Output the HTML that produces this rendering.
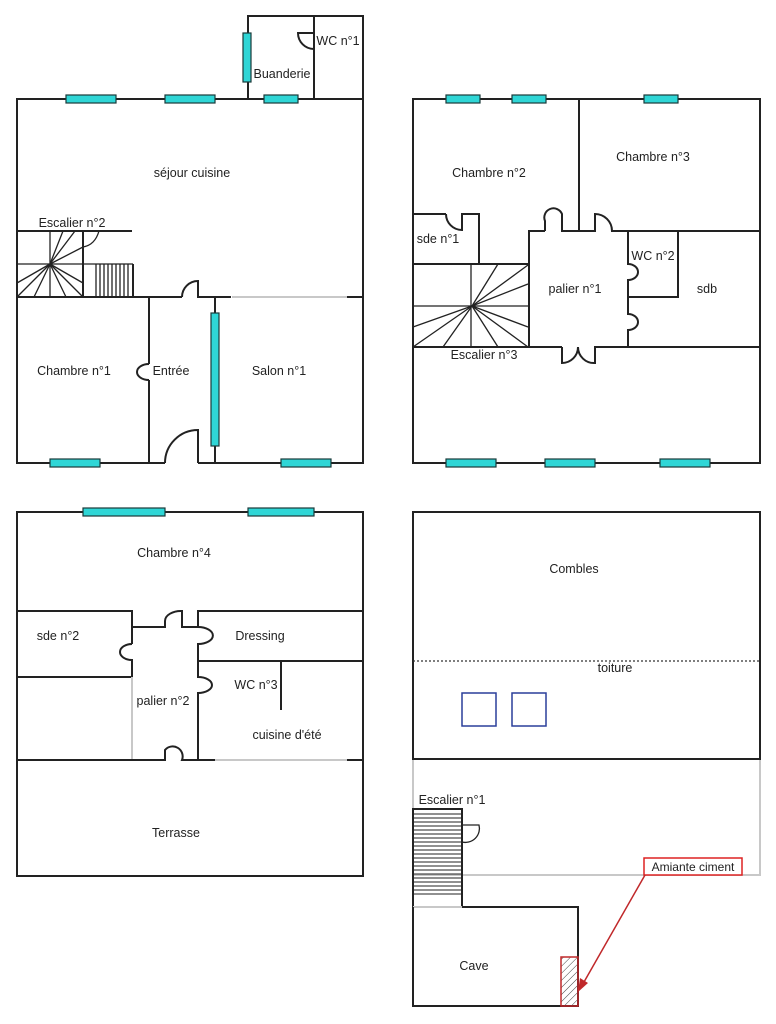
<!DOCTYPE html>
<html><head><meta charset="utf-8"><style>
html,body{margin:0;padding:0;background:#fff;}
svg{display:block;}
text{font-family:"Liberation Sans",Arial,sans-serif;font-size:12.5px;fill:#222;text-anchor:middle;}
.w{stroke:#222;stroke-width:2;fill:none;}
.g{stroke:#c8c8c8;stroke-width:2;fill:none;}
.t{stroke:#222;stroke-width:1.3;fill:none;}
.win{fill:#2fd6d6;stroke:#1a3a3a;stroke-width:1.2;}
</style></head><body>
<svg width="776" height="1024" viewBox="0 0 776 1024" xmlns="http://www.w3.org/2000/svg">
<defs>
<pattern id="h" width="5" height="5" patternUnits="userSpaceOnUse" patternTransform="rotate(45)">
<line x1="0" y1="0" x2="0" y2="5" stroke="#444" stroke-width="1"/></pattern>
</defs>

<!-- ===== TOP LEFT ===== -->
<rect class="w" x="17" y="99" width="346" height="364"/>
<polyline class="w" points="248,99 248,16 363,16 363,99"/>
<line class="w" x1="314" y1="16" x2="314" y2="99"/>
<path class="w" d="M314,33 L298,33 A16,16 0 0 0 314,49"/>
<!-- escalier 2 -->
<line class="w" x1="17" y1="231" x2="132" y2="231"/>
<rect class="w" x="17" y="231" width="66" height="66"/>
<line class="t" x1="50" y1="231" x2="50" y2="297"/>
<line class="t" x1="17" y1="264" x2="133" y2="264"/>
<line class="w" x1="133" y1="264" x2="133" y2="297"/>
<path class="t" d="M83,247 Q95,245 99,231"/>
<g class="t">
<line x1="50" y1="264" x2="63" y2="231"/><line x1="50" y1="264" x2="75" y2="231"/><line x1="50" y1="264" x2="83" y2="247"/>
<line x1="50" y1="264" x2="17" y2="283"/><line x1="50" y1="264" x2="17" y2="297"/><line x1="50" y1="264" x2="34" y2="297"/>
<line x1="50" y1="264" x2="66" y2="297"/><line x1="50" y1="264" x2="83" y2="297"/><line x1="50" y1="264" x2="83" y2="283"/>
</g>
<g class="t">
<line x1="96" y1="264" x2="96" y2="297"/><line x1="100" y1="264" x2="100" y2="297"/><line x1="104" y1="264" x2="104" y2="297"/>
<line x1="108" y1="264" x2="108" y2="297"/><line x1="112" y1="264" x2="112" y2="297"/><line x1="116" y1="264" x2="116" y2="297"/>
<line x1="120" y1="264" x2="120" y2="297"/><line x1="124" y1="264" x2="124" y2="297"/><line x1="128" y1="264" x2="128" y2="297"/>
</g>
<line class="w" x1="17" y1="297" x2="182" y2="297"/>
<path class="w" d="M182,297 A16,16 0 0 1 198,281 L198,297 L231,297"/>
<line class="g" x1="232" y1="297" x2="347" y2="297"/>
<line class="w" x1="347" y1="297" x2="363" y2="297"/>
<line class="w" x1="149" y1="297" x2="149" y2="364"/>
<path class="w" d="M149,364 L149,364 A12,8 0 0 0 149,380"/>
<line class="w" x1="149" y1="380" x2="149" y2="463"/>
<line class="w" x1="215" y1="297" x2="215" y2="463"/>
<line x1="165" y1="463" x2="198" y2="463" stroke="#fff" stroke-width="3"/>
<path class="w" d="M165,463 A33,33 0 0 1 198,430 L198,463"/>
<rect class="win" x="211" y="313" width="8" height="133"/>
<rect class="win" x="243" y="33" width="8" height="49"/>
<rect class="win" x="66" y="95" width="50" height="8"/>
<rect class="win" x="165" y="95" width="50" height="8"/>
<rect class="win" x="264" y="95" width="34" height="8"/>
<rect class="win" x="50" y="459" width="50" height="8"/>
<rect class="win" x="281" y="459" width="50" height="8"/>
<text x="192" y="177">séjour cuisine</text>
<text x="72" y="227">Escalier n°2</text>
<text x="74" y="375">Chambre n°1</text>
<text x="171" y="375">Entrée</text>
<text x="279" y="375">Salon n°1</text>
<text x="282" y="78">Buanderie</text>
<text x="338" y="45">WC n°1</text>

<!-- ===== TOP RIGHT ===== -->
<rect class="w" x="413" y="99" width="347" height="364"/>
<line class="w" x1="579" y1="99" x2="579" y2="231"/>
<polyline class="w" points="529,347 529,231 545,231"/>
<path class="w" d="M545,231 L545,221 A8,8 0 0 1 562,214 L562,231 L595,231 L595,214 A17,17 0 0 1 612,231 L760,231"/>
<polyline class="w" points="413,214 446,214"/>
<path class="w" d="M446,214 A16,16 0 0 0 462,230 L462,214 L479,214 L479,264"/>
<rect class="w" x="413" y="264" width="116" height="83"/>
<line class="t" x1="471" y1="264" x2="471" y2="347"/>
<line class="t" x1="413" y1="306" x2="529" y2="306"/>
<g class="t">
<line x1="472" y1="306" x2="498" y2="264"/><line x1="472" y1="306" x2="528" y2="265"/><line x1="472" y1="306" x2="528" y2="284"/>
<line x1="472" y1="306" x2="413" y2="327"/><line x1="472" y1="306" x2="413" y2="347"/><line x1="472" y1="306" x2="443" y2="347"/>
<line x1="472" y1="306" x2="498" y2="347"/><line x1="472" y1="306" x2="528" y2="347"/><line x1="472" y1="306" x2="528" y2="327"/>
</g>
<path class="w" d="M628,231 L628,264 A10,8 0 0 1 628,280 L628,314 A10,8 0 0 1 628,330 L628,347"/>
<polyline class="w" points="628,297 678,297 678,231"/>
<line class="w" x1="413" y1="347" x2="562" y2="347"/>
<path class="w" d="M562,347 L562,363 A16,16 0 0 0 578,347 A16,16 0 0 0 595,363 L595,347 L760,347"/>
<rect class="win" x="446" y="95" width="34" height="8"/>
<rect class="win" x="512" y="95" width="34" height="8"/>
<rect class="win" x="644" y="95" width="34" height="8"/>
<rect class="win" x="446" y="459" width="50" height="8"/>
<rect class="win" x="545" y="459" width="50" height="8"/>
<rect class="win" x="660" y="459" width="50" height="8"/>
<text x="489" y="177">Chambre n°2</text>
<text x="653" y="161">Chambre n°3</text>
<text x="438" y="243">sde n°1</text>
<text x="653" y="260">WC n°2</text>
<text x="575" y="293">palier n°1</text>
<text x="707" y="293">sdb</text>
<text x="484" y="359">Escalier n°3</text>

<!-- ===== BOTTOM LEFT ===== -->
<rect class="w" x="17" y="512" width="346" height="364"/>
<polyline class="w" points="17,611 132,611 132,644"/>
<path class="w" d="M132,644 A12,8 0 0 0 132,660 L132,677 L17,677"/>
<line class="g" x1="132" y1="677" x2="132" y2="760"/>
<path class="w" d="M132,627 L165,627 L165,621 A16,10 0 0 1 182,611 L182,627 L198,627"/>
<polyline class="w" points="363,611 198,611 198,627"/>
<path class="w" d="M198,627 A14,8 0 0 1 198,644 L198,677 A14,8 0 0 1 198,693 L198,760"/>
<line class="w" x1="198" y1="661" x2="363" y2="661"/>
<line class="w" x1="281" y1="661" x2="281" y2="710"/>
<path class="w" d="M17,760 L165,760 L165,750 A10,10 0 0 1 182,760 L215,760"/>
<line class="g" x1="215" y1="760" x2="347" y2="760"/>
<line class="w" x1="347" y1="760" x2="363" y2="760"/>
<rect class="win" x="83" y="508" width="82" height="8"/>
<rect class="win" x="248" y="508" width="66" height="8"/>
<text x="174" y="557">Chambre n°4</text>
<text x="58" y="640">sde n°2</text>
<text x="260" y="640">Dressing</text>
<text x="256" y="689">WC n°3</text>
<text x="163" y="705">palier n°2</text>
<text x="287" y="739">cuisine d'été</text>
<text x="176" y="837">Terrasse</text>

<!-- ===== BOTTOM RIGHT ===== -->
<rect class="w" x="413" y="512" width="347" height="247"/>
<line x1="413" y1="661" x2="760" y2="661" stroke="#333" stroke-width="1.3" stroke-dasharray="2,2"/>
<rect x="462" y="693" width="34" height="33" fill="none" stroke="#2a3f9a" stroke-width="1.5"/>
<rect x="512" y="693" width="34" height="33" fill="none" stroke="#2a3f9a" stroke-width="1.5"/>
<text x="574" y="573">Combles</text>
<text x="615" y="672">toiture</text>
<polyline class="g" points="413,760 413,875 760,875 760,760"/>
<rect class="w" x="413" y="809" width="49" height="98"/>
<g stroke="#222" stroke-width="1">
<line x1="413" y1="814" x2="462" y2="814"/><line x1="413" y1="818" x2="462" y2="818"/><line x1="413" y1="822" x2="462" y2="822"/>
<line x1="413" y1="826" x2="462" y2="826"/><line x1="413" y1="830" x2="462" y2="830"/><line x1="413" y1="834" x2="462" y2="834"/>
<line x1="413" y1="838" x2="462" y2="838"/><line x1="413" y1="842" x2="462" y2="842"/><line x1="413" y1="846" x2="462" y2="846"/>
<line x1="413" y1="850" x2="462" y2="850"/><line x1="413" y1="854" x2="462" y2="854"/><line x1="413" y1="858" x2="462" y2="858"/>
<line x1="413" y1="862" x2="462" y2="862"/><line x1="413" y1="866" x2="462" y2="866"/><line x1="413" y1="870" x2="462" y2="870"/>
<line x1="413" y1="874" x2="462" y2="874"/><line x1="413" y1="878" x2="462" y2="878"/><line x1="413" y1="882" x2="462" y2="882"/>
<line x1="413" y1="886" x2="462" y2="886"/><line x1="413" y1="890" x2="462" y2="890"/><line x1="413" y1="894" x2="462" y2="894"/>
</g>
<path class="t" d="M462,825 L479,825 A14,14 0 0 1 462,842"/>
<text x="452" y="804">Escalier n°1</text>
<line class="g" x1="413" y1="907" x2="462" y2="907"/>
<polyline class="w" points="462,907 578,907 578,1006 413,1006 413,907"/>
<rect x="561" y="957" width="17" height="49" fill="url(#h)" stroke="#c0282a" stroke-width="1.5"/>
<text x="474" y="970">Cave</text>
<rect x="644" y="858" width="98" height="17" fill="#fff" stroke="#d22" stroke-width="1.5"/>
<text x="693" y="871" style="font-size:12px">Amiante ciment</text>
<line x1="645" y1="875" x2="584" y2="982" stroke="#c0282a" stroke-width="1.5"/>
<polygon points="578,992 580,978 588,983" fill="#c0282a"/>
</svg>
</body></html>
